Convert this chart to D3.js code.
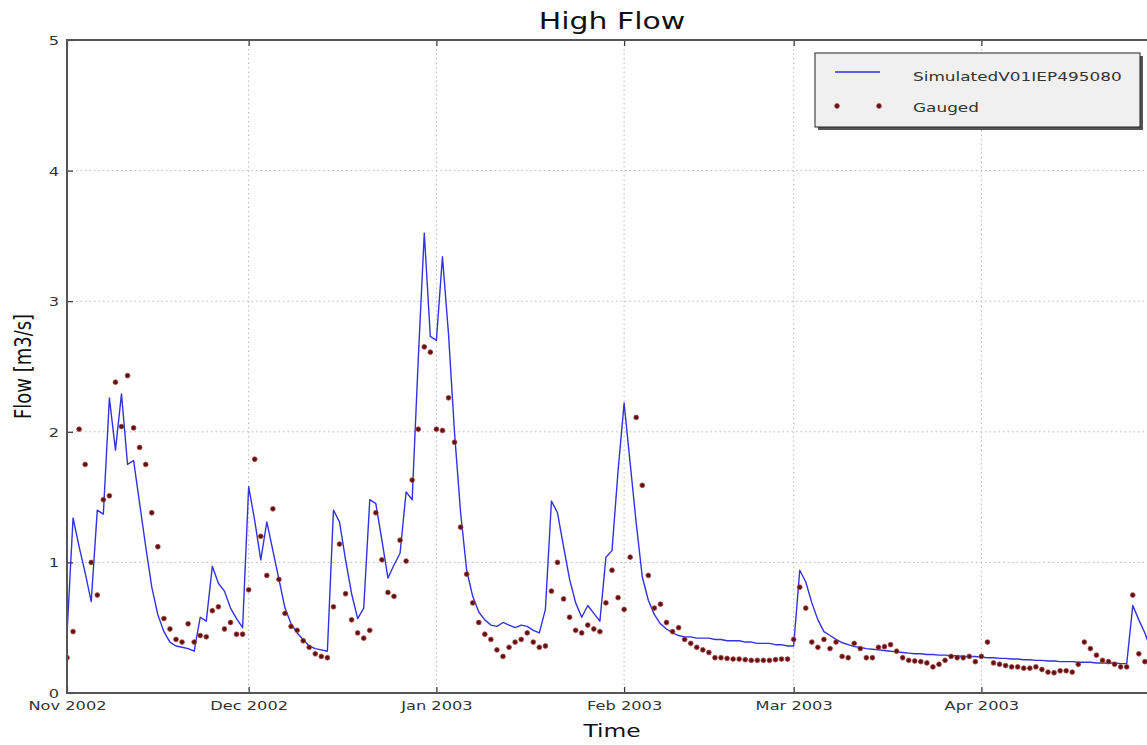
<!DOCTYPE html>
<html>
<head>
<meta charset="utf-8">
<script src="https://cdn.jsdelivr.net/npm/d3@7"></script>
<style>
  html, body { margin: 0; padding: 0; background: #ffffff; overflow: hidden; }
  svg { display: block; font-family: "DejaVu Sans", sans-serif; }
</style>
</head>
<body>
<svg id="chart" width="1147" height="745"></svg>
<script>
// ---------------- data ----------------
const startDate = "2002-11-01";           // first daily value
const endDate = "2003-04-30";             // right end of the time axis
const tickDates = ["2002-11-01", "2002-12-01", "2003-01-01", "2003-02-01", "2003-03-01", "2003-04-01"];
const tickLabels = ["Nov 2002", "Dec 2002", "Jan 2003", "Feb 2003", "Mar 2003", "Apr 2003"];
const yTicks = [0, 1, 2, 3, 4, 5];
const seriesNames = ["SimulatedV01IEP495080", "Gauged"];

// daily simulated flow (m3/s), from 1 Nov 2002
const simulated = [
  0.45, 1.34, 1.12, 0.92, 0.70, 1.40, 1.37, 2.26, 1.86, 2.29,
  1.75, 1.78, 1.45, 1.12, 0.81, 0.60, 0.47, 0.39, 0.36, 0.35,
  0.34, 0.32, 0.58, 0.55, 0.97, 0.84, 0.78, 0.65, 0.57, 0.50,
  1.58, 1.32, 1.02, 1.31, 1.09, 0.87, 0.65, 0.53, 0.46, 0.41,
  0.36, 0.34, 0.33, 0.32, 1.40, 1.31, 1.02, 0.76, 0.57, 0.65,
  1.48, 1.45, 1.17, 0.88, 0.98, 1.07, 1.54, 1.48, 2.55, 3.52,
  2.73, 2.70, 3.34, 2.75, 1.99, 1.38, 0.94, 0.74, 0.62, 0.56,
  0.52, 0.51, 0.54, 0.52, 0.50, 0.52, 0.51, 0.48, 0.46, 0.64,
  1.47, 1.38, 1.12, 0.87, 0.69, 0.58, 0.67, 0.61, 0.55, 1.04,
  1.09, 1.70, 2.22, 1.76, 1.30, 0.89, 0.71, 0.60, 0.53, 0.49,
  0.46, 0.44, 0.43, 0.43, 0.42, 0.42, 0.42, 0.41, 0.41, 0.40,
  0.40, 0.40, 0.39, 0.39, 0.38, 0.38, 0.38, 0.37, 0.37, 0.36,
  0.36, 0.94, 0.85, 0.69, 0.56, 0.47, 0.44, 0.41, 0.385, 0.37,
  0.355, 0.35, 0.34, 0.335, 0.33, 0.325, 0.32, 0.315, 0.31, 0.305,
  0.30, 0.30, 0.295, 0.295, 0.29, 0.29, 0.285, 0.285, 0.28, 0.28,
  0.28, 0.275, 0.27, 0.27, 0.265, 0.265, 0.26, 0.26, 0.255, 0.255,
  0.25, 0.25, 0.245, 0.245, 0.24, 0.24, 0.24, 0.235, 0.235, 0.235,
  0.23, 0.23, 0.23, 0.23, 0.225, 0.225, 0.67, 0.56, 0.46, 0.33
];

// daily gauged flow (m3/s), from 1 Nov 2002
const gauged = [
  0.27, 0.47, 2.02, 1.75, 1.00, 0.75, 1.48, 1.51, 2.38, 2.04,
  2.43, 2.03, 1.88, 1.75, 1.38, 1.12, 0.57, 0.49, 0.41, 0.39,
  0.53, 0.39, 0.44, 0.43, 0.63, 0.66, 0.49, 0.54, 0.45, 0.45,
  0.79, 1.79, 1.20, 0.90, 1.41, 0.87, 0.61, 0.51, 0.48, 0.40,
  0.35, 0.30, 0.28, 0.27, 0.66, 1.14, 0.76, 0.56, 0.46, 0.42,
  0.48, 1.38, 1.02, 0.77, 0.74, 1.17, 1.01, 1.63, 2.02, 2.65,
  2.61, 2.02, 2.01, 2.26, 1.92, 1.27, 0.91, 0.69, 0.54, 0.45,
  0.41, 0.33, 0.28, 0.35, 0.39, 0.41, 0.46, 0.39, 0.35, 0.36,
  0.78, 1.00, 0.72, 0.58, 0.48, 0.46, 0.52, 0.49, 0.47, 0.69,
  0.94, 0.73, 0.64, 1.04, 2.11, 1.59, 0.90, 0.65, 0.68, 0.54,
  0.47, 0.50, 0.41, 0.38, 0.35, 0.33, 0.31, 0.27, 0.27, 0.265,
  0.26, 0.26, 0.255, 0.25, 0.25, 0.25, 0.25, 0.255, 0.26, 0.26,
  0.41, 0.81, 0.65, 0.39, 0.35, 0.41, 0.34, 0.39, 0.28, 0.27,
  0.38, 0.34, 0.27, 0.27, 0.35, 0.355, 0.37, 0.32, 0.27, 0.25,
  0.245, 0.24, 0.23, 0.20, 0.22, 0.25, 0.28, 0.27, 0.27, 0.28,
  0.24, 0.28, 0.39, 0.23, 0.22, 0.21, 0.20, 0.20, 0.19, 0.19,
  0.20, 0.18, 0.16, 0.155, 0.17, 0.17, 0.16, 0.22, 0.39, 0.34,
  0.29, 0.25, 0.24, 0.22, 0.20, 0.20, 0.75, 0.30, 0.24, 0.19
];

// ---------------- drawing ----------------
const parse = d3.timeParse("%Y-%m-%d");
const t0 = parse(startDate);
const simData = simulated.map((v, i) => ({ date: d3.timeDay.offset(t0, i), value: v }));
const gaugedData = gauged.map((v, i) => ({ date: d3.timeDay.offset(t0, i), value: v }));

const W = 1147, H = 745;
const plot = { left: 67, top: 40, right: 1157, bottom: 693 };
const SX = 1.3; // horizontal stretch of the original figure's text

const x = d3.scaleTime().domain([t0, parse(endDate)]).range([plot.left, plot.right]);
const y = d3.scaleLinear().domain([0, 5]).range([plot.bottom, plot.top]);

const svg = d3.select("#chart");
svg.append("rect").attr("width", W).attr("height", H).attr("fill", "#ffffff");

svg.append("defs").append("clipPath").attr("id", "clip")
  .append("rect")
  .attr("x", plot.left).attr("y", plot.top)
  .attr("width", plot.right - plot.left).attr("height", plot.bottom - plot.top);

const tickDateObjs = tickDates.map(parse);

// grid
const grid = svg.append("g");
grid.selectAll("line.gx").data(tickDateObjs).join("line")
  .attr("x1", d => x(d)).attr("x2", d => x(d))
  .attr("y1", plot.top).attr("y2", plot.bottom)
  .attr("stroke", "#b8b8b8").attr("stroke-width", 1).attr("stroke-dasharray", "1.5,3");
grid.selectAll("line.gy").data(yTicks).join("line")
  .attr("x1", plot.left).attr("x2", plot.right)
  .attr("y1", d => y(d)).attr("y2", d => y(d))
  .attr("stroke", "#b8b8b8").attr("stroke-width", 1).attr("stroke-dasharray", "1.5,3");

// data
const body = svg.append("g").attr("clip-path", "url(#clip)");
body.append("path").datum(simData)
  .attr("fill", "none").attr("stroke", "#3232e0").attr("stroke-width", 1.4)
  .attr("stroke-linejoin", "round")
  .attr("d", d3.line().x(d => x(d.date)).y(d => y(d.value)));

body.selectAll("circle.g").data(gaugedData).join("circle")
  .attr("cx", d => x(d.date)).attr("cy", d => y(d.value)).attr("r", 2.4)
  .attr("fill", "#5a1212").attr("stroke", "#b04444").attr("stroke-width", 0.8);

// axes with d3 axis generators
const xAxisB = d3.axisBottom(x).tickValues(tickDateObjs)
  .tickFormat((d, i) => tickLabels[i]).tickSizeInner(-6).tickSizeOuter(0).tickPadding(0);
const gxb = svg.append("g").attr("transform", `translate(0,${plot.bottom})`).call(xAxisB);
gxb.select(".domain").remove();
gxb.selectAll("line").attr("stroke", "#333").attr("stroke-width", 1.2);
gxb.selectAll("text")
  .attr("y", 17).attr("dy", null)
  .attr("transform", `scale(${SX},1)`)
  .attr("font-family", "DejaVu Sans").attr("font-size", 12.5).attr("fill", "#333");

const xAxisT = d3.axisTop(x).tickValues(tickDateObjs).tickFormat("").tickSizeInner(-6).tickSizeOuter(0);
const gxt = svg.append("g").attr("transform", `translate(0,${plot.top})`).call(xAxisT);
gxt.select(".domain").remove();
gxt.selectAll("line").attr("stroke", "#333").attr("stroke-width", 1.2);

const yAxisL = d3.axisLeft(y).tickValues(yTicks).tickFormat(d3.format("d"))
  .tickSizeInner(-6).tickSizeOuter(0).tickPadding(0);
const gyl = svg.append("g").attr("transform", `translate(${plot.left},0)`).call(yAxisL);
gyl.select(".domain").remove();
gyl.selectAll("line").attr("stroke", "#333").attr("stroke-width", 1.2);
gyl.selectAll("text")
  .attr("x", -8 / SX).attr("dy", "0.36em")
  .attr("transform", `scale(${SX},1)`)
  .attr("font-family", "DejaVu Sans").attr("font-size", 12.5).attr("fill", "#333");

// frame
svg.append("rect")
  .attr("x", plot.left).attr("y", plot.top)
  .attr("width", plot.right - plot.left).attr("height", plot.bottom - plot.top)
  .attr("fill", "none").attr("stroke", "#555").attr("stroke-width", 2);

// title and axis labels
svg.append("text")
  .attr("transform", `translate(${(plot.left + plot.right) / 2},29) scale(${SX},1)`)
  .attr("text-anchor", "middle").attr("font-size", 23).attr("fill", "#111")
  .text("High Flow");
svg.append("text")
  .attr("transform", `translate(${(plot.left + plot.right) / 2},737) scale(${SX},1)`)
  .attr("text-anchor", "middle").attr("font-size", 18).attr("fill", "#111")
  .text("Time");
svg.append("text")
  .attr("transform", `translate(31,${(plot.top + plot.bottom) / 2}) scale(${SX},1) rotate(-90)`)
  .attr("text-anchor", "middle").attr("font-size", 18).attr("fill", "#111")
  .text("Flow [m3/s]");

// legend
const lg = svg.append("g");
const L = { x: 815, y: 53, w: 325, h: 74 };
lg.append("rect").attr("x", L.x + 3).attr("y", L.y + 3).attr("width", L.w).attr("height", L.h)
  .attr("fill", "#555");
lg.append("rect").attr("x", L.x).attr("y", L.y).attr("width", L.w).attr("height", L.h)
  .attr("fill", "#f0f0f0").attr("stroke", "#222").attr("stroke-width", 1);
lg.append("line").attr("x1", 835).attr("x2", 880).attr("y1", 72).attr("y2", 72)
  .attr("stroke", "#3232e0").attr("stroke-width", 1.6);
lg.selectAll("circle").data([837, 879]).join("circle")
  .attr("cx", d => d).attr("cy", 106).attr("r", 2.4)
  .attr("fill", "#5a1212").attr("stroke", "#b04444").attr("stroke-width", 0.8);
lg.selectAll("text").data(seriesNames).join("text")
  .attr("transform", (d, i) => `translate(913,${i === 0 ? 81 : 112}) scale(${SX},1)`)
  .attr("font-size", 13).attr("fill", "#333")
  .text(d => d);
</script>
</body>
</html>
